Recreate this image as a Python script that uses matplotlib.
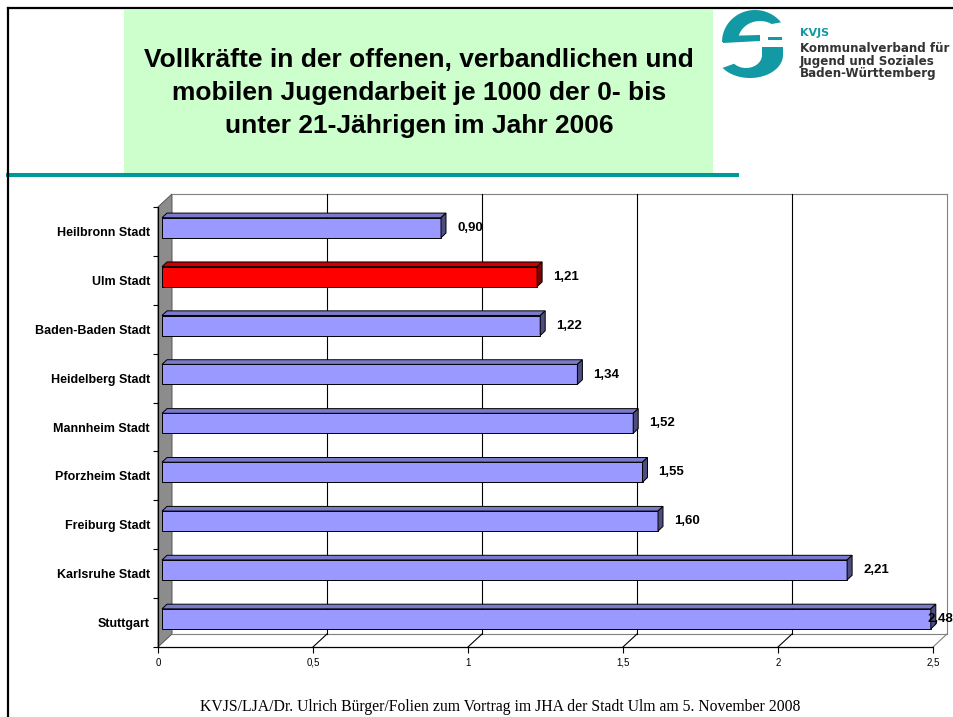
import matplotlib
matplotlib.use("Agg")
import matplotlib.pyplot as plt
import numpy as np
from matplotlib.patches import Polygon, Rectangle
from matplotlib.lines import Line2D
from matplotlib.transforms import Affine2D

# ---------------- data ----------------
categories = ["Heilbronn Stadt", "Ulm Stadt", "Baden-Baden Stadt", "Heidelberg Stadt",
              "Mannheim Stadt", "Pforzheim Stadt", "Freiburg Stadt", "Karlsruhe Stadt",
              "Stuttgart"]
values = [0.90, 1.21, 1.22, 1.34, 1.52, 1.55, 1.60, 2.21, 2.48]
highlight = "Ulm Stadt"
xticks = [0, 0.5, 1, 1.5, 2, 2.5]
xtick_labels = ["0", "0,5", "1", "1,5", "2", "2,5"]

title = ("Vollkräfte in der offenen, verbandlichen und\n"
         "mobilen Jugendarbeit je 1000 der 0- bis\n"
         "unter 21-Jährigen im Jahr 2006")
footer = ("KVJS/LJA/Dr. Ulrich Bürger/Folien zum Vortrag im JHA der Stadt Ulm am "
          "5. November 2008")
logo_lines = ["Kommunalverband für", "Jugend und Soziales", "Baden-Württemberg"]

# ---------------- figure ----------------
W, H = 954, 717
fig = plt.figure(figsize=(W / 100, H / 100), dpi=100)
fig.patch.set_facecolor("white")
px = Affine2D().scale(1 / W, -1 / H).translate(0, 1) + fig.transFigure
TEAL = "#1399A4"

# slide decoration
fig.add_artist(Rectangle((124, 10), 589, 163, transform=px, facecolor="#CCFFCC",
                         edgecolor="none", zorder=0))
fig.add_artist(Line2D([8, 737], [175, 175], transform=px, color="#009999", lw=2.9))
fig.add_artist(Line2D([8, 8], [8, 717], transform=px, color="black", lw=1.6))
fig.add_artist(Line2D([8, 954], [8, 8], transform=px, color="black", lw=1.6))

fig.text(419, 93, title, transform=px, ha="center", va="center", fontsize=19,
         fontweight="bold", family="Liberation Sans", linespacing=1.48)

# logo shapes (decoration)
t_o = np.linspace(np.radians(38), np.pi, 60)
t_i = np.linspace(np.pi, np.radians(58), 60)
upper = np.vstack([np.column_stack([755 + 33 * np.cos(t_o), 42 - 32 * np.sin(t_o)]),
                   np.column_stack([760 + 22 * np.cos(t_i), 41 - 20 * np.sin(t_i)])])
fig.add_artist(Polygon(upper, closed=True, transform=px, facecolor=TEAL, edgecolor="none"))
fig.add_artist(Polygon([(723, 36), (760, 35), (760, 41), (723, 43)], closed=True,
                       transform=px, facecolor=TEAL, edgecolor="none"))
fig.add_artist(Rectangle((768, 37), 14, 3, transform=px, facecolor=TEAL, edgecolor="none"))
t_o = np.linspace(0, np.radians(-146), 60)
t_i = np.linspace(np.radians(-138), 0, 60)
lower = np.vstack([[(783, 47)],
                   np.column_stack([750 + 33 * np.cos(t_o), 55 - 23 * np.sin(t_o)]),
                   np.column_stack([746 + 16 * np.cos(t_i), 55 - 13 * np.sin(t_i)]),
                   [(762, 47)]])
fig.add_artist(Polygon(lower, closed=True, transform=px, facecolor=TEAL, edgecolor="none"))

fig.text(800, 33, "KVJS", transform=px, ha="left", va="center", fontsize=8,
         fontweight="bold", family="DejaVu Sans", color=TEAL)
for k, line in enumerate(logo_lines):
    fig.text(800, 48 + 13 * k, line, transform=px, ha="left", va="center", fontsize=8.6,
             fontweight="bold", family="DejaVu Sans", color="#333333")

fig.text(500, 707, footer, transform=px, ha="center", va="center", fontsize=11.3,
         family="Liberation Serif")

# ---------------- chart ----------------
n = len(categories)
ax = fig.add_axes([158 / W, (H - 647) / H, 775 / W, 440 / H])
ax.set_xlim(xticks[0], xticks[-1])
ax.set_ylim(n - 0.5, -0.5)
ax.patch.set_visible(False)

sx = (xticks[-1] - xticks[0]) / 775.0   # data units per pixel
sy = n / 440.0
D = 14          # depth of the chart box in px
F, B = 4, 9     # front / back depth of bars in px


def dp(x, y, d):
    return (x + d * sx, y - d * 0.93 * sy)


y0, y1 = -0.5, n - 0.5
x0, x1 = xticks[0], xticks[-1]
GRAY = "#808080"
kw = dict(clip_on=False)

# left wall
ax.add_patch(Polygon([(x0, y0), (x0, y1), dp(x0, y1, D), dp(x0, y0, D)], closed=True,
                     facecolor="#8C8C8C", edgecolor="#555555", lw=0.7, zorder=1, **kw))
# back wall frame
ax.plot(*zip(dp(x0, y0, D), dp(x1, y0, D)), color=GRAY, lw=0.8, zorder=1, **kw)
ax.plot(*zip(dp(x1, y0, D), dp(x1, y1, D)), color=GRAY, lw=0.8, zorder=1, **kw)
ax.plot(*zip(dp(x0, y1, D), dp(x1, y1, D)), color=GRAY, lw=0.8, zorder=1, **kw)
ax.plot(*zip((x1, y1), dp(x1, y1, D)), color=GRAY, lw=0.8, zorder=1, **kw)
for t in xticks[1:-1]:
    ax.plot(*zip(dp(t, y0, D), dp(t, y1, D)), color="black", lw=0.8, zorder=1, **kw)
    ax.plot(*zip((t, y1), dp(t, y1, D)), color="black", lw=0.8, zorder=1, **kw)

# bars
h = 20 * sy
colors = ["#FF0000" if c == highlight else "#9999FF" for c in categories]
ypos = np.arange(n)
ax.barh(ypos - F * 0.93 * sy, values, left=F * sx, height=h, color=colors,
        edgecolor="black", linewidth=0.7, zorder=3)
for i, (v, c) in enumerate(zip(values, colors)):
    rgb = np.array(matplotlib.colors.to_rgb(c))
    top = [dp(0, i - h / 2, F), dp(v, i - h / 2, F), dp(v, i - h / 2, B), dp(0, i - h / 2, B)]
    side = [dp(v, i - h / 2, F), dp(v, i + h / 2, F), dp(v, i + h / 2, B), dp(v, i - h / 2, B)]
    ax.add_patch(Polygon(top, closed=True, facecolor=rgb * 0.8, edgecolor="black",
                         lw=0.7, zorder=3, **kw))
    ax.add_patch(Polygon(side, closed=True, facecolor=rgb * 0.5, edgecolor="black",
                         lw=0.7, zorder=3, **kw))
    lx = min(v + 20 * sx, (928 - 158) * sx)
    ax.text(lx, i - 3.5 * sy, f"{v:.2f}".replace(".", ","), ha="left", va="center",
            fontsize=9.5, fontweight="bold", family="Liberation Sans", zorder=5, **kw)

# axes
for s in ["top", "right"]:
    ax.spines[s].set_visible(False)
for s in ["left", "bottom"]:
    ax.spines[s].set_color("black")
    ax.spines[s].set_linewidth(0.9)
    ax.spines[s].set_zorder(4)
ax.set_yticks(ypos)
ax.set_yticklabels(categories, fontsize=9, fontweight="bold", family="Liberation Sans")
ax.set_yticks(np.arange(n + 1) - 0.5, minor=True)
ax.tick_params(axis="y", which="major", length=0, pad=5.8)
ax.tick_params(axis="y", which="minor", length=3.6, width=0.8, direction="out")
ax.set_xticks(xticks)
ax.set_xticklabels(xtick_labels, fontsize=7, family="Liberation Sans")
ax.tick_params(axis="x", length=4.3, width=0.8, pad=3.6)

fig.savefig("out.png", dpi=100)
